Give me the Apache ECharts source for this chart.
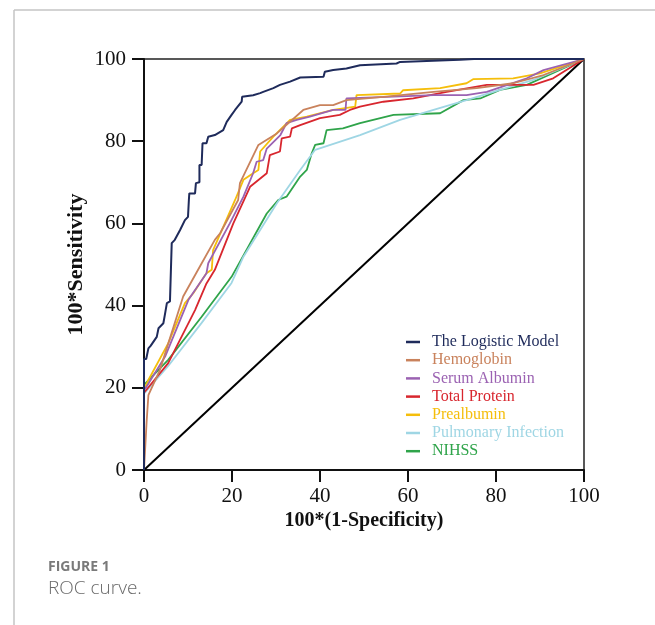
<!DOCTYPE html>
<html>
<head>
<meta charset="utf-8">
<title>ROC curve</title>
<script src="https://cdn.jsdelivr.net/npm/echarts@6/dist/echarts.min.js"></script>
<style>
  html, body { margin: 0; padding: 0; background: #fff; }
  #chart { width: 655px; height: 625px; }
</style>
</head>
<body>
<div id="chart"></div>
<script>
// ROC curves, points are [100*(1-specificity), 100*sensitivity]
const X_TICKS = [0, 20, 40, 60, 80, 100];

const logisticModel = [[0,0],[0,27],[0.5,27],[1,29.6],[1.5,30.2],[2.9,32.4],[3.3,34.5],[4.4,35.7],[4.8,38.1],[5.2,40.6],[5.9,41],[6.3,55.2],[7,56],[8.2,58.4],[9.3,60.8],[10,61.6],[10.2,65.7],[10.3,67.3],[11.6,67.3],[11.8,69.8],[12.6,70],[12.6,74.2],[13.1,74.2],[13.3,79.5],[14.2,79.5],[14.6,81.1],[16.1,81.5],[18,82.7],[18.8,84.7],[19.9,86.4],[20.7,87.6],[22.2,89.6],[22.3,90.8],[24.8,91.2],[26.4,91.7],[27.1,92],[29.4,92.9],[30.9,93.7],[33.2,94.5],[35.5,95.5],[40.8,95.7],[41.1,96.9],[43,97.3],[46,97.7],[49.1,98.5],[57.4,98.9],[58.2,99.3],[71.8,99.8],[75,100],[100,100]];
const hemoglobin = [[0,0],[0.6,11.8],[0.8,12],[1,18.2],[3.6,24.3],[8.9,42.2],[12.7,49.5],[16.1,56],[17.3,57.6],[21.4,65.7],[21.8,69.8],[26,79.1],[30.2,81.9],[36.2,87.6],[40,88.8],[43,88.8],[46,90],[54.4,90.8],[65.8,92],[75.6,92.9],[83.9,94.1],[90.8,96.1],[100,100]];
const serumAlbumin = [[0,0],[0,19.5],[0.6,20.3],[4.8,27.6],[10.1,41.4],[14.2,47.9],[14.6,50.3],[19.5,60],[22.6,66.5],[24.8,72.2],[25.6,75],[27.1,75.4],[27.9,78.2],[31,81.5],[32.4,84.4],[34.7,85.2],[37.7,86],[43,87.6],[45.8,87.6],[46,90.4],[55.2,90.8],[65.8,91.2],[73.3,91.2],[77.9,92],[87,95.3],[90.8,97.3],[100,100]];
const totalProtein = [[0,0],[0,18.8],[0.2,19],[5.5,26],[11.6,38.9],[14.2,45.4],[16.1,48.7],[20.3,60],[24.1,68.9],[27.9,72.2],[28.6,76.6],[30.9,77.5],[31.3,80.7],[33.2,81.1],[33.6,83.1],[35.5,83.9],[40,85.6],[44.5,86.4],[46.8,87.6],[49.1,88.4],[54.4,89.6],[61.2,90.4],[68.8,92],[77.9,93.7],[88.5,93.7],[93,95.3],[100,100]];
const prealbumin = [[0,0],[0,19.5],[1,21.9],[5.5,30.8],[9.3,40.6],[11.2,43],[14.2,47.9],[15.4,48.7],[15.7,53.5],[20.7,65.7],[22.6,70.6],[24.8,72.2],[26,73],[26.4,77.5],[29.4,81.1],[33.2,85.2],[37,86],[43,87.6],[48,88.4],[48.3,91.2],[58.2,91.6],[58.9,92.4],[67.3,92.9],[73.3,94.1],[74.8,95.1],[83.9,95.3],[90,96.5],[100,100]];
const pulmonaryInfection = [[0,0],[0,18.6],[5.5,25.3],[13.1,35.8],[19.9,45.5],[22.6,51.9],[30.2,64.9],[35.5,73],[38.9,77.9],[49.1,81.5],[58.2,85.2],[65.8,87.6],[73.3,90],[80.9,92.5],[88.5,94.9],[100,100]];
const nihss = [[0,0],[0,20.7],[5.5,26.8],[13.1,37.3],[19.9,47],[27.9,62.4],[30.5,65.7],[32.4,66.5],[35.5,71.4],[37,73],[38.1,77],[38.9,79.1],[40.8,79.5],[41.5,82.7],[45.2,83.1],[49.1,84.4],[56.7,86.4],[67.3,86.8],[72.6,90],[76.4,90.4],[80.9,92.5],[87,93.7],[100,100]];
const reference = [[0,0],[100,100]];

const SERIES = [
  { name: 'The Logistic Model', data: logisticModel, color: '#1f2b5b' },
  { name: 'Hemoglobin', data: hemoglobin, color: '#c9825c' },
  { name: 'Serum Albumin', data: serumAlbumin, color: '#9b62b2' },
  { name: 'Total Protein', data: totalProtein, color: '#d8262e' },
  { name: 'Prealbumin', data: prealbumin, color: '#f5be0b' },
  { name: 'Pulmonary Infection', data: pulmonaryInfection, color: '#9fd6e4' },
  { name: 'NIHSS', data: nihss, color: '#2fa44a' }
];

const SERIF = '"Liberation Serif", "DejaVu Serif", serif';

const chart = echarts.init(document.getElementById('chart'));

// draw order: reference diagonal, then the marker curves, logistic model on top
const drawOrder = [6, 5, 4, 3, 2, 1, 0];

chart.setOption({
  animation: false,
  backgroundColor: '#fff',
  grid: { left: 144, right: 71, top: 59, bottom: 155, show: true, borderColor: '#222', borderWidth: 1.5 },
  legend: {
    left: 401,
    top: 328,
    orient: 'vertical',
    icon: 'rect',
    itemWidth: 14,
    itemHeight: 2.5,
    itemGap: 0.2,
    data: SERIES.map(s => ({ name: s.name, textStyle: { color: s.color } })),
    textStyle: { fontFamily: SERIF, fontSize: 16, lineHeight: 18, padding: [0, 0, 0, 7] }
  },
  xAxis: {
    type: 'value',
    min: 0,
    max: 100,
    interval: 20,
    name: '100*(1-Specificity)',
    nameLocation: 'middle',
    nameGap: 41,
    nameMoveOverlap: false,
    nameTextStyle: { fontFamily: SERIF, fontSize: 20, fontWeight: 'bold', color: '#111' },
    axisLine: { lineStyle: { color: '#111', width: 2 } },
    axisTick: { length: 12, lineStyle: { color: '#111', width: 2 } },
    axisLabel: { margin: 16, fontFamily: SERIF, fontSize: 21, color: '#111',
      formatter: v => X_TICKS.includes(v) ? String(v) : '' },
    splitLine: { show: false }
  },
  yAxis: {
    type: 'value',
    min: 0,
    max: 100,
    interval: 20,
    name: '100*Sensitivity',
    nameLocation: 'middle',
    nameGap: 57,
    nameMoveOverlap: false,
    nameTextStyle: { fontFamily: SERIF, fontSize: 22, fontWeight: 'bold', color: '#111' },
    axisLine: { lineStyle: { color: '#111', width: 2 } },
    axisTick: { length: 12, lineStyle: { color: '#111', width: 2 } },
    axisLabel: { margin: 18, fontFamily: SERIF, fontSize: 21, color: '#111' },
    splitLine: { show: false }
  },
  series: [
    {
      type: 'line',
      name: 'reference',
      data: reference,
      showSymbol: false,
      silent: true,
      lineStyle: { color: '#000', width: 2 },
      z: 1
    }
  ].concat(drawOrder.map(i => ({
    type: 'line',
    name: SERIES[i].name,
    data: SERIES[i].data,
    showSymbol: false,
    color: SERIES[i].color,
    lineStyle: { color: SERIES[i].color, width: i === 0 ? 2 : 1.8 },
    z: 2
  }))),
  graphic: [
    { type: 'line', shape: { x1: 14, y1: 10, x2: 655, y2: 10 }, style: { stroke: '#c4c4c4', lineWidth: 1.5 } },
    { type: 'line', shape: { x1: 14, y1: 10, x2: 14, y2: 625 }, style: { stroke: '#c4c4c4', lineWidth: 1.5 } },
    { type: 'text', left: 48, top: 560, style: { text: 'FIGURE 1', fill: '#7a7a7a', font: 'bold 14px "Open Sans", sans-serif' } },
    { type: 'text', left: 48, top: 579, style: { text: 'ROC curve.', fill: '#6a6a6a', font: '300 19px "Open Sans", sans-serif' } }
  ]
});

window.addEventListener('resize', () => chart.resize());
</script>
</body>
</html>
